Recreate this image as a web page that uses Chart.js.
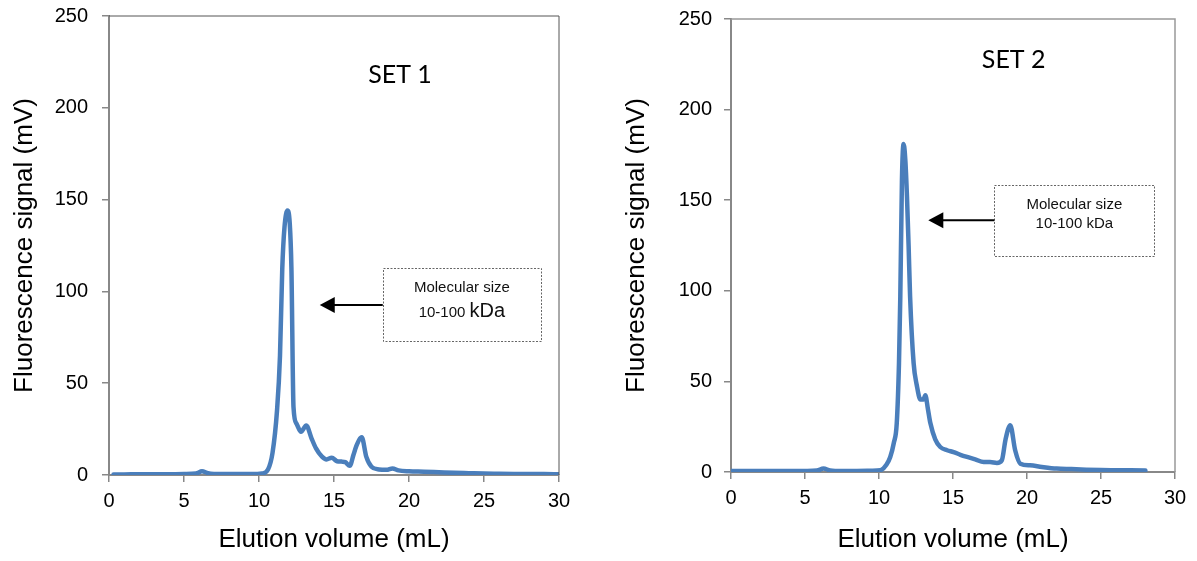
<!DOCTYPE html>
<html>
<head>
<meta charset="utf-8">
<script src="https://cdn.jsdelivr.net/npm/chart.js@4/dist/chart.umd.min.js"></script>
<style>
  body { margin: 0; background: #fff; }
  .box { position: absolute; top: 0; height: 561px; }
  #wrap1 { left: 0; width: 590px; }
  #wrap2 { left: 610px; width: 587px; }
</style>
</head>
<body>
<div class="box" id="wrap1"><canvas id="set1"></canvas></div>
<div class="box" id="wrap2"><canvas id="set2"></canvas></div>
<script>
// SET 1 elution profile
var set1Volume = [0.3, 1, 2, 3, 4, 5, 5.8, 6.2, 6.6, 7.5, 8.5, 9.5, 10.2, 10.6, 10.9, 11.2, 11.4, 11.55, 11.7, 11.9,
  12.05, 12.16, 12.3, 12.5, 12.8, 13.15, 13.5, 13.8, 14.2, 14.5, 14.85, 15.2, 15.5, 15.75, 16.05, 16.3, 16.5, 16.85,
  17.15, 17.5, 18, 18.5, 18.9, 19.3, 20, 21, 22, 23, 24, 25, 26, 27, 28, 29, 30];
var set1Signal = [0.3, 0.3, 0.4, 0.4, 0.4, 0.5, 0.8, 2, 1, 0.5, 0.5, 0.5, 0.8, 3, 12, 35, 65, 112, 135, 144,
  137, 113, 37, 28, 23.6, 27, 20, 14.5, 10, 8.5, 9.4, 7.5, 7.3, 7, 5, 11, 16, 20.5,
  10, 4.5, 3, 2.8, 3.6, 2.5, 2, 1.8, 1.5, 1.2, 1, 0.8, 0.7, 0.6, 0.5, 0.5, 0.4];

// SET 2 elution profile
var set2Volume = [0, 1, 2, 3, 4, 5, 5.8, 6.25, 6.7, 7.5, 8.5, 9.5, 10.1, 10.5, 10.76, 11, 11.2, 11.35, 11.44, 11.55,
  11.66, 11.78, 11.89, 12, 12.1, 12.34, 12.55, 12.8, 13, 13.13, 13.3, 13.47, 13.8, 14.14, 14.6, 15.04, 15.5, 15.95,
  16.5, 17.07, 17.5, 17.97, 18.3, 18.55, 18.87, 19.2, 19.55, 20.2, 21, 22, 23, 24, 25, 26, 27, 28];
var set2Signal = [0.5, 0.5, 0.5, 0.5, 0.5, 0.6, 0.8, 1.9, 0.9, 0.6, 0.6, 0.7, 1, 4, 8.3, 16, 27, 60, 97, 161,
  181, 172, 152, 125, 97, 60, 48, 40, 40, 42.4, 35, 27, 18, 13.8, 12, 11, 9.5, 8.3,
  7, 5.5, 5.5, 5, 6.5, 18, 25.8, 12, 4.6, 3.7, 2.8, 1.9, 1.6, 1.3, 1.1, 1, 0.9, 0.8];

var xTicks = [0, 5, 10, 15, 20, 25, 30];
var yTicks = [0, 50, 100, 150, 200, 250];

var lineBlue = '#4a7ebb';
var tickFont = { family: 'Liberation Sans, Arial', size: 20 };
var titleFont = { family: 'Liberation Sans, Arial', size: 26 };

// frame on top/right + annotation box, arrow and set label
var extras = {
  id: 'extras',
  afterDraw: function (chart) {
    var o = chart.options.plugins.extras;
    var ctx = chart.ctx, a = chart.chartArea;
    var xs = chart.scales.x, ys = chart.scales.y;
    ctx.save();
    ctx.strokeStyle = o.frameColor;
    ctx.lineWidth = o.frameWidth;
    ctx.beginPath();
    ctx.moveTo(a.left, a.top);
    ctx.lineTo(a.right, a.top);
    ctx.lineTo(a.right, a.bottom);
    ctx.stroke();

    // set label
    ctx.fillStyle = '#000';
    ctx.font = '25px Lato, "Open Sans", sans-serif';
    ctx.textAlign = 'center';
    ctx.textBaseline = 'middle';
    ctx.fillText(o.label, xs.getPixelForValue(o.labelAt[0]), ys.getPixelForValue(o.labelAt[1]));

    // dashed box
    var bx1 = xs.getPixelForValue(o.box[0]), bx2 = xs.getPixelForValue(o.box[1]);
    var by1 = ys.getPixelForValue(o.box[2]), by2 = ys.getPixelForValue(o.box[3]);
    ctx.setLineDash([2, 1.5]);
    ctx.strokeStyle = '#666';
    ctx.lineWidth = 1;
    ctx.strokeRect(Math.round(bx1) + 0.5, Math.round(by1) + 0.5, Math.round(bx2 - bx1), Math.round(by2 - by1));
    ctx.setLineDash([]);

    // arrow
    var tx = xs.getPixelForValue(o.arrowTip[0]), ty = ys.getPixelForValue(o.arrowTip[1]);
    ctx.strokeStyle = '#000';
    ctx.fillStyle = '#000';
    ctx.lineWidth = 2;
    ctx.beginPath();
    ctx.moveTo(bx1, ty);
    ctx.lineTo(tx + 12, ty);
    ctx.stroke();
    ctx.beginPath();
    ctx.moveTo(tx, ty);
    ctx.lineTo(tx + 15, ty - 8);
    ctx.lineTo(tx + 15, ty + 8);
    ctx.closePath();
    ctx.fill();

    // box text
    var cx = (bx1 + bx2) / 2;
    ctx.fillStyle = '#111';
    ctx.textAlign = 'center';
    ctx.font = o.textSize + 'px "Liberation Sans", Arial';
    ctx.fillText('Molecular size', cx, by1 + o.line1);
    if (o.bigKDa) {
      var s1 = '10-100 ', s2 = 'kDa';
      ctx.font = o.textSize + 'px "Liberation Sans", Arial';
      var w1 = ctx.measureText(s1).width;
      ctx.font = '20px "Liberation Sans", Arial';
      var w2 = ctx.measureText(s2).width;
      var start = cx - (w1 + w2) / 2;
      ctx.textAlign = 'left';
      ctx.textBaseline = 'alphabetic';
      ctx.font = o.textSize + 'px "Liberation Sans", Arial';
      ctx.fillText(s1, start, by1 + o.line2);
      ctx.font = '20px "Liberation Sans", Arial';
      ctx.fillText(s2, start + w1, by1 + o.line2);
    } else {
      ctx.fillText('10-100 kDa', cx, by1 + o.line2);
    }
    ctx.restore();
  }
};

function makeChart(id, volume, signal, cfg) {
  var pts = volume.map(function (v, i) { return { x: v, y: signal[i] }; });
  return new Chart(document.getElementById(id), {
    type: 'line',
    data: {
      datasets: [{
        data: pts,
        borderColor: lineBlue,
        borderWidth: 4.5,
        pointRadius: 0,
        fill: false,
        cubicInterpolationMode: 'monotone',
        borderCapStyle: 'round',
        borderJoinStyle: 'round'
      }]
    },
    options: {
      responsive: true,
      maintainAspectRatio: false,
      animation: false,
      layout: { padding: { top: cfg.padTop, right: cfg.padRight, left: 0, bottom: 0 } },
      plugins: {
        legend: { display: false },
        tooltip: { enabled: false },
        extras: cfg.extras
      },
      scales: {
        x: {
          type: 'linear',
          min: 0, max: 30,
          afterBuildTicks: function (s) { s.ticks = xTicks.map(function (v) { return { value: v }; }); },
          afterFit: function (s) { s.height = cfg.xHeight; s.paddingLeft = 0; s.paddingRight = 0; },
          ticks: { font: tickFont, color: '#000', padding: 7, maxRotation: 0 },
          grid: { drawOnChartArea: false, drawTicks: true, tickLength: 7, color: '#888', lineWidth: 1.5 },
          border: { color: '#888', width: 2 },
          title: { display: true, text: 'Elution volume (mL)', font: titleFont, color: '#000', padding: { bottom: 6, top: 0 } }
        },
        y: {
          min: 0, max: 250,
          afterBuildTicks: function (s) { s.ticks = yTicks.map(function (v) { return { value: v }; }); },
          afterFit: function (s) { s.width = cfg.yWidth; s.paddingTop = 0; s.paddingBottom = 0; },
          ticks: { font: tickFont, color: '#000', padding: cfg.yTickPad },
          grid: { drawOnChartArea: false, drawTicks: true, tickLength: 7, color: '#888', lineWidth: 1.5 },
          border: { color: '#888', width: 2 },
          title: { display: true, text: 'Fluorescence signal (mV)', font: titleFont, color: '#000', padding: { top: cfg.yTitlePad, bottom: 0 } }
        }
      }
    },
    plugins: [extras]
  });
}

makeChart('set1', set1Volume, set1Signal, {
  padTop: 16, padRight: 31, xHeight: 86, yWidth: 109, yTickPad: 14, yTitlePad: 9,
  extras: {
    frameColor: '#555', frameWidth: 1, label: 'SET 1', labelAt: [19.4, 218],
    box: [18.25, 28.8, 112.7, 73], arrowTip: [14.05, 92.6],
    textSize: 15, line1: 20, line2: 49, bigKDa: true
  }
});

makeChart('set2', set2Volume, set2Signal, {
  padTop: 19, padRight: 22, xHeight: 89, yWidth: 121, yTickPad: 12, yTitlePad: 11,
  extras: {
    frameColor: '#999', frameWidth: 1.5, label: 'SET 2', labelAt: [19.1, 227.5],
    box: [17.8, 28.6, 158.4, 119.3], arrowTip: [13.33, 139],
    textSize: 15, line1: 20, line2: 39, bigKDa: false
  }
});
</script>
</body>
</html>
